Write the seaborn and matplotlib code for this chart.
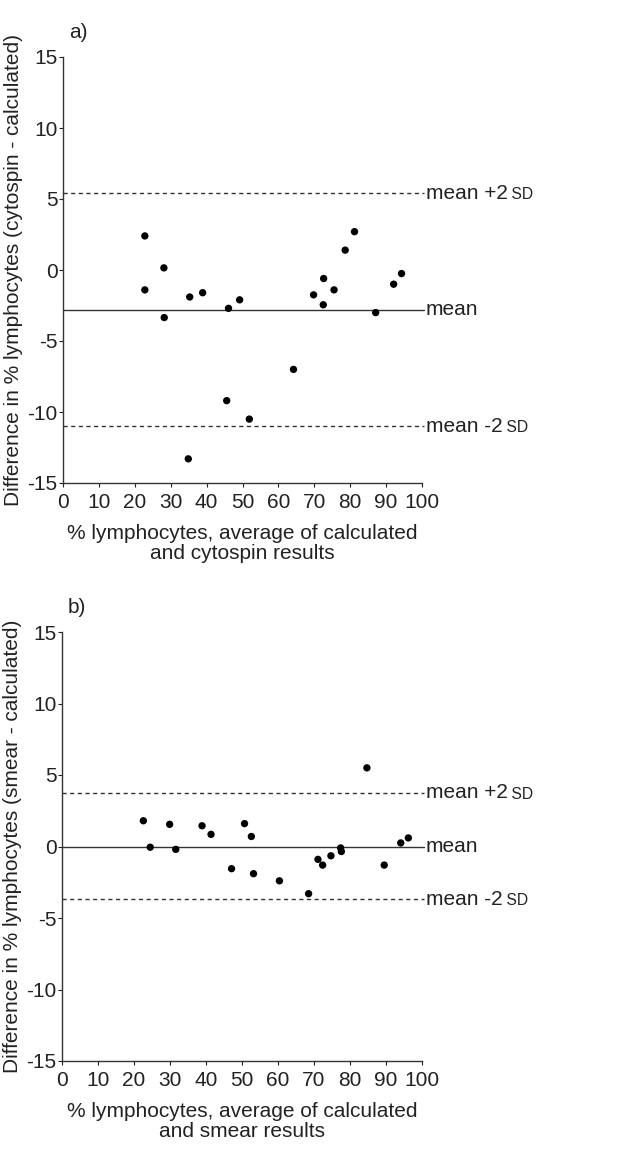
import matplotlib
matplotlib.use("Agg")
import matplotlib.pyplot as plt
import seaborn as sns
import pandas as pd
from matplotlib import font_manager

# Panel a: cytospin - calculated
a_avg = [22.8, 22.8, 28.1, 28.2, 35.3, 38.9, 34.9, 45.6, 46.1, 49.2, 51.9,
         64.2, 69.8, 72.5, 72.6, 75.5, 78.6, 81.2, 87.1, 92.1, 94.3]
a_diff = [2.4, -1.4, 0.15, -3.35, -1.9, -1.6, -13.3, -9.2, -2.7, -2.1, -10.5,
          -7.0, -1.75, -2.45, -0.6, -1.4, 1.4, 2.7, -3.0, -1.0, -0.25]
a_mean, a_upper, a_lower = -2.8, 5.4, -11.0

# Panel b: smear - calculated
b_avg = [22.6, 24.5, 29.9, 31.6, 38.9, 41.4, 47.1, 50.7, 52.6, 53.2, 60.4,
         68.5, 71.1, 72.4, 74.7, 77.4, 77.6, 84.7, 89.5, 94.1, 96.2]
b_diff = [1.8, -0.05, 1.55, -0.2, 1.45, 0.85, -1.55, 1.6, 0.7, -1.9, -2.4,
          -3.3, -0.9, -1.3, -0.65, -0.1, -0.35, 5.5, -1.3, 0.25, 0.6]
b_mean, b_upper, b_lower = 0.0, 3.75, -3.7

x_ticks = [0, 10, 20, 30, 40, 50, 60, 70, 80, 90, 100]
y_ticks = [-15, -10, -5, 0, 5, 10, 15]

sns.set_style("ticks")
names = {f.name for f in font_manager.fontManager.ttflist}
fam = "Liberation Sans Narrow" if "Liberation Sans Narrow" in names else "Liberation Sans"
plt.rcParams["font.family"] = [fam, "DejaVu Sans"]
plt.rcParams["axes.linewidth"] = 1.0
plt.rcParams["axes.unicode_minus"] = False

W, H = 623, 1151
fig = plt.figure(figsize=(W / 100, H / 100), dpi=100)

panels = [
    dict(avg=a_avg, diff=a_diff, mean=a_mean, up=a_upper, lo=a_lower, tag="a)",
         ylabel="Difference in % lymphocytes (cytospin - calculated)",
         xlabel="% lymphocytes, average of calculated\nand cytospin results",
         box=(63, 57, 422, 483)),
    dict(avg=b_avg, diff=b_diff, mean=b_mean, up=b_upper, lo=b_lower, tag="b)",
         ylabel="Difference in % lymphocytes (smear - calculated)",
         xlabel="% lymphocytes, average of calculated\nand smear results",
         box=(62, 632, 422, 1061)),
]

fs = 15
ink = "#222222"
for p in panels:
    l, t, r, b = p["box"]
    ax = fig.add_axes([l / W, 1 - b / H, (r - l) / W, (b - t) / H])
    df = pd.DataFrame({"avg": p["avg"], "diff": p["diff"]})
    sns.scatterplot(data=df, x="avg", y="diff", ax=ax, color="black",
                    s=28, edgecolor="none", zorder=3, clip_on=False)
    ax.set_xlim(0, 100)
    ax.set_ylim(-15, 15)
    ax.set_xticks(x_ticks)
    ax.set_yticks(y_ticks)
    ax.tick_params(labelsize=fs, length=3, width=0.8, colors=ink, labelcolor=ink)
    ax.tick_params(axis="x", pad=4)
    ax.tick_params(axis="y", pad=1)
    for s in ["top", "right"]:
        ax.spines[s].set_visible(False)
    for s in ["left", "bottom"]:
        ax.spines[s].set_color("#333333")
    ax.plot([0, 100.5], [p["mean"]] * 2, color="#333333", lw=1.0, clip_on=False, zorder=2)
    ax.plot([0, 100.5], [p["up"]] * 2, color="#333333", lw=1.0, ls=(0, (3, 2.5)), clip_on=False, zorder=2)
    ax.plot([0, 100.5], [p["lo"]] * 2, color="#333333", lw=1.0, ls=(0, (3, 2.5)), clip_on=False, zorder=2)
    for yv, lab, sd in [(p["up"], "mean +2", True), (p["mean"], "mean", False), (p["lo"], "mean -2", True)]:
        tx = ax.text(101.0, yv, lab, fontsize=fs, va="center", ha="left", color=ink)
        if sd:
            ax.annotate(" SD", xy=(1, 0.42), xycoords=tx, fontsize=fs * 0.75,
                        va="center", ha="left", color=ink)
    ax.text(0.017, 1.035, p["tag"], transform=ax.transAxes,
            fontsize=fs, ha="left", va="bottom", color=ink)
    ax.set_xlabel(p["xlabel"], fontsize=fs, color=ink, linespacing=1.05, labelpad=9)
    ax.set_ylabel(p["ylabel"], fontsize=fs, color=ink, labelpad=3)

fig.savefig("out.png", dpi=100)
